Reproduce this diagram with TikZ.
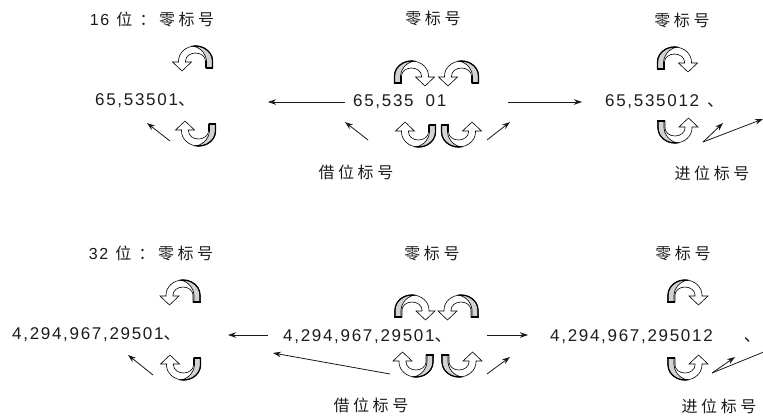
\documentclass[tikz,border=0pt]{standalone}
\usepackage{fontspec}
\setmainfont{Liberation Sans}
\newfontfamily\digf[LetterSpace=10]{Liberation Sans}
\newfontfamily\cjk[LetterSpace=22]{Noto Sans CJK SC}
\usetikzlibrary{arrows.meta}
\definecolor{txt}{HTML}{1C1C1C}
\definecolor{ribgray}{HTML}{D2D2D2}
\tikzset{
  lbl/.style={inner sep=0pt,text=txt,font=\fontsize{16}{18}\selectfont\cjk},
  num/.style={inner sep=0pt,text=txt,anchor=west,font=\fontsize{17}{19}\selectfont\digf},
  arr/.style={draw=black!90,line width=0.8pt,-{Stealth[length=8pt,width=5.5pt]}},
}
% ribbon curved arrow: #1,#2 image position; #3 xscale; #4 yscale
\newcommand\ribbonarrow[4]{%
  \begin{scope}[shift={(#1,-#2)},xscale=#3,yscale=#4]
    % white band with open head
    \filldraw[fill=white,line width=0.6pt,line join=miter]
      (17,-7) -- (17,0) arc[start angle=0,end angle=180,x radius=17,y radius=15]
      -- (-17,-1) -- (-23,-1) -- (-13.5,-10) -- (-4,-1) -- (-10,-1) -- (-10,0)
      arc[start angle=180,end angle=0,x radius=10,y radius=8] -- (10,-7) -- cycle;
    % gray twisted part on the tail
    \filldraw[fill=ribgray,line width=0.6pt]
      (17,-7) -- (17,0) arc[start angle=0,end angle=97,x radius=17,y radius=15]
      .. controls (6,13) and (11,6) .. (11,0) -- (11,-7) -- cycle;
    \draw[line width=1.2pt] (17,-7) -- (17,0) arc[start angle=0,end angle=100,x radius=17,y radius=15];
    \draw[line width=1.6pt] (10,-7) -- (17.6,-7);
  \end{scope}}
\begin{document}
\begin{tikzpicture}[x=1pt,y=1pt]
\clip (0,0) rectangle (763,-416);
\fill[white] (0,0) rectangle (763,-416);

% ---------- 16 bit ----------
\node[lbl] (t16) at (152,-19) {{\digf 16} 位 ：零标号};
\node[num] (n16a) at (95,-101) {65,53501{\cjk 、}};
\node[lbl] (z16b) at (433,-18) {零标号};
\node[num] (n16b) at (353,-102) {65,535\hspace{12pt}01};
\node[lbl] (b16) at (356,-172) {借位标号};
\node[lbl] (z16c) at (682,-20) {零标号};
\node[num] (n16c) at (605,-102) {65,535012\hspace{8pt}{\cjk 、}};
\node[lbl] (j16) at (712,-173) {进位标号};

\ribbonarrow{195.5}{61}{1}{1}
\ribbonarrow{198.5}{131}{1}{-1}
\ribbonarrow{411.5}{76}{-1}{1}
\ribbonarrow{461.5}{76}{1}{1}
\ribbonarrow{418.5}{132}{1}{-1}
\ribbonarrow{458.5}{132}{-1}{-1}
\ribbonarrow{674.5}{62}{-1}{1}
\ribbonarrow{675}{128}{-1}{-1}

\coordinate (a1s) at (170,-141); \coordinate (a1e) at (147,-123);
\coordinate (a2s) at (345,-102); \coordinate (a2e) at (268,-102);
\coordinate (a3s) at (508,-102); \coordinate (a3e) at (582,-102);
\coordinate (a4s) at (368,-140); \coordinate (a4e) at (345,-122);
\coordinate (a5s) at (487,-140); \coordinate (a5e) at (510,-122);
\coordinate (a6s) at (703,-142); \coordinate (a6e) at (723,-123);
\coordinate (a7e) at (763,-119);
\draw[arr] (a1s) -- (a1e);
\draw[arr] (a2s) -- (a2e);
\draw[arr] (a3s) -- (a3e);
\draw[arr] (a4s) -- (a4e);
\draw[arr] (a5s) -- (a5e);
\draw[arr] (a6s) -- (a6e);
\draw[arr] (a6s) -- (a7e);

% ---------- 32 bit ----------
\node[lbl] (t32) at (151,-253) {{\digf 32} 位 ：零标号};
\node[num] (n32a) at (12,-335) {4,294,967,29501{\cjk 、}};
\node[lbl] (z32b) at (432,-253) {零标号};
\node[num] (n32b) at (283,-337) {4,294,967,29501{\cjk 、}};
\node[lbl] (b32) at (371,-405) {借位标号};
\node[lbl] (z32c) at (683,-253) {零标号};
\node[num] (n32c) at (550,-337) {4,294,967,295012\hspace{31pt}{\cjk 、}};
\node[lbl] (j32) at (719,-406) {进位标号};

\ribbonarrow{183}{295}{1}{1}
\ribbonarrow{183.5}{365}{1}{-1}
\ribbonarrow{412}{310}{-1}{1}
\ribbonarrow{461}{310}{1}{1}
\ribbonarrow{416}{362}{1}{-1}
\ribbonarrow{459}{362}{-1}{-1}
\ribbonarrow{685}{295}{-1}{1}
\ribbonarrow{685}{365}{-1}{-1}

\coordinate (b1s) at (153,-375); \coordinate (b1e) at (128,-355);
\coordinate (b2s) at (268,-335); \coordinate (b2e) at (228,-335);
\coordinate (b3s) at (487,-335); \coordinate (b3e) at (528,-335);
\coordinate (b4s) at (390,-374); \coordinate (b4e) at (273,-353);
\coordinate (b5s) at (487,-374); \coordinate (b5e) at (510,-357);
\coordinate (b6s) at (712,-373); \coordinate (b6e) at (735,-357);
\coordinate (b7e) at (776,-347);
\draw[arr] (b1s) -- (b1e);
\draw[arr] (b2s) -- (b2e);
\draw[arr] (b3s) -- (b3e);
\draw[arr] (b4s) -- (b4e);
\draw[arr] (b5s) -- (b5e);
\draw[arr] (b6s) -- (b6e);
\draw[arr] (b6s) -- (b7e);
\end{tikzpicture}
\end{document}
